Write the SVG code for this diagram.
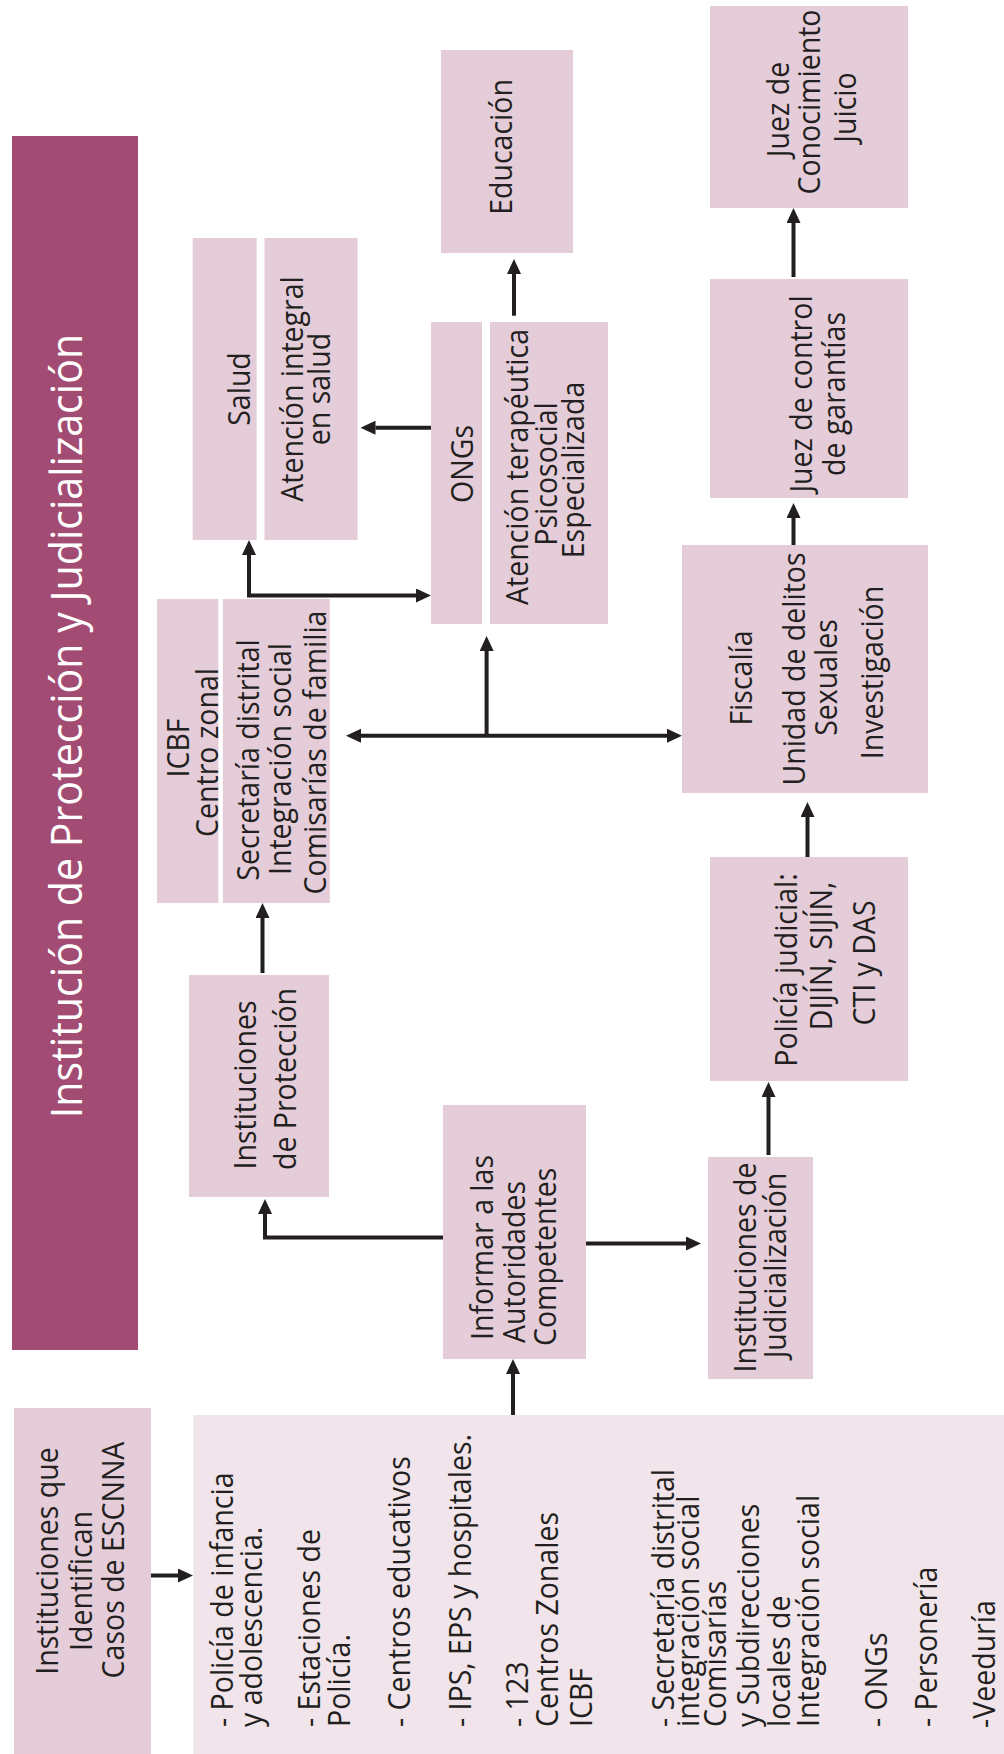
<svg xmlns="http://www.w3.org/2000/svg" width="1004" height="1754" viewBox="0 0 1004 1754">
<defs>
<style>
.box{fill:#e4cdd9}
.list{fill:#f1e4ea}
.bar{fill:#a24c73}
text{font-family:"Open Sans","Noto Sans",sans-serif;fill:#231f20;font-size:30.5px}
.c{text-anchor:middle}
.s{text-anchor:start}
.title{fill:#ffffff;font-size:44px}
.ln{fill:none;stroke:#231f20;stroke-width:4}
</style>
<marker id="ah" viewBox="0 0 15 14" refX="0" refY="7" markerWidth="15" markerHeight="14" markerUnits="userSpaceOnUse" orient="auto-start-reverse">
<path d="M0,0 L15,7 L0,14 z" fill="#231f20"/>
</marker>
</defs>
<rect width="1004" height="1754" fill="#ffffff"/>

<g id="title">
<rect class="bar" x="12" y="136" width="126" height="1214"/>
<text class="c title" transform="translate(81.5,726) rotate(-90) scale(0.935,1)">Institución de Protección y Judicialización</text>
</g>

<g id="educacion">
<rect class="box" x="441" y="50" width="132" height="203"/>
<text class="c" transform="translate(512,147) rotate(-90) scale(0.935,1)">Educación</text>
</g>

<g id="juez-conocimiento">
<rect class="box" x="710" y="6" width="198" height="202"/>
<text class="c" transform="translate(789,109.5) rotate(-90) scale(0.935,1)">Juez de</text>
<text class="c" transform="translate(820,102) rotate(-90) scale(0.935,1)">Conocimiento</text>
<text class="c" transform="translate(856,107.5) rotate(-90) scale(0.935,1)">Juicio</text>
</g>

<g id="salud">
<rect class="box" x="192.7" y="238" width="64" height="302"/>
<text class="c" transform="translate(250,389) rotate(-90) scale(0.935,1)">Salud</text>
</g>

<g id="atencion-salud">
<rect class="box" x="264.5" y="238" width="93" height="302"/>
<text class="c" transform="translate(303.3,389) rotate(-90) scale(0.935,1)">Atención integral</text>
<text class="c" transform="translate(330,389) rotate(-90) scale(0.935,1)">en salud</text>
</g>

<g id="ongs">
<rect class="box" x="431" y="322" width="51" height="302"/>
<text class="c" transform="translate(473,464) rotate(-90) scale(0.935,1)">ONGs</text>
</g>

<g id="atencion-terapeutica">
<rect class="box" x="490" y="322" width="118" height="302"/>
<text class="c" transform="translate(528.3,467) rotate(-90) scale(0.935,1)">Atención terapéutica</text>
<text class="c" transform="translate(556.7,474) rotate(-90) scale(0.935,1)">Psicosocial</text>
<text class="c" transform="translate(584,470) rotate(-90) scale(0.935,1)">Especializada</text>
</g>

<g id="juez-control">
<rect class="box" x="710" y="279" width="198" height="219"/>
<text class="c" transform="translate(812,394) rotate(-90) scale(0.935,1)">Juez de control</text>
<text class="c" transform="translate(845,394) rotate(-90) scale(0.935,1)">de garantías</text>
</g>

<g id="fiscalia">
<rect class="box" x="682" y="545" width="246" height="248"/>
<text class="c" transform="translate(751.7,678) rotate(-90) scale(0.935,1)">Fiscalía</text>
<text class="c" transform="translate(805,669) rotate(-90) scale(0.935,1)">Unidad de delitos</text>
<text class="c" transform="translate(836.7,677.5) rotate(-90) scale(0.935,1)">Sexuales</text>
<text class="c" transform="translate(883.3,672.5) rotate(-90) scale(0.935,1)">Investigación</text>
</g>

<g id="icbf">
<rect class="box" x="157" y="599" width="61.4" height="304"/>
<text class="c" transform="translate(189,748) rotate(-90) scale(0.935,1)">ICBF</text>
<text class="c" transform="translate(217.7,752.5) rotate(-90) scale(0.935,1)">Centro zonal</text>
</g>

<g id="secretaria">
<rect class="box" x="222.8" y="599" width="107" height="304"/>
<text class="c" transform="translate(259.3,760) rotate(-90) scale(0.935,1)">Secretaría distrital</text>
<text class="c" transform="translate(291.3,759) rotate(-90) scale(0.935,1)">Integración social</text>
<text class="c" transform="translate(326,752.5) rotate(-90) scale(0.935,1)">Comisarías de familia</text>
</g>

<g id="proteccion">
<rect class="box" x="189" y="975" width="140" height="222"/>
<text class="c" transform="translate(256,1085) rotate(-90) scale(0.935,1)">Instituciones</text>
<text class="c" transform="translate(296,1079) rotate(-90) scale(0.935,1)">de Protección</text>
</g>

<g id="policia-judicial">
<rect class="box" x="710" y="857" width="198" height="224"/>
<text class="c" transform="translate(797,970) rotate(-90) scale(0.935,1)">Policía judicial:</text>
<text class="c" transform="translate(832.4,956) rotate(-90) scale(0.935,1)">DIJÍN, SIJÍN,</text>
<text class="c" transform="translate(875,963) rotate(-90) scale(0.935,1)">CTI y DAS</text>
</g>

<g id="informar">
<rect class="box" x="443" y="1105" width="143" height="254"/>
<text class="s" transform="translate(493,1340) rotate(-90) scale(0.935,1)">Informar a las</text>
<text class="s" transform="translate(525,1343) rotate(-90) scale(0.935,1)">Autoridades</text>
<text class="s" transform="translate(556,1346) rotate(-90) scale(0.935,1)">Competentes</text>
</g>

<g id="judicializacion">
<rect class="box" x="708" y="1157" width="105" height="222"/>
<text class="c" transform="translate(755.6,1267.5) rotate(-90) scale(0.935,1)">Instituciones de</text>
<text class="c" transform="translate(786,1265.5) rotate(-90) scale(0.935,1)">Judicialización</text>
</g>

<g id="identifican">
<rect class="box" x="14" y="1408" width="137" height="346"/>
<text class="c" transform="translate(58,1561) rotate(-90) scale(0.935,1)">Instituciones que</text>
<text class="c" transform="translate(92,1581) rotate(-90) scale(0.935,1)">Identifican</text>
<text class="c" transform="translate(124,1560) rotate(-90) scale(0.935,1)">Casos de ESCNNA</text>
</g>

<g id="lista">
<rect class="list" x="193.4" y="1415" width="811" height="339"/>
<text class="s" transform="translate(233,1727) rotate(-90) scale(0.935,1)">- Policía de infancia</text>
<text class="s" transform="translate(262,1727) rotate(-90) scale(0.935,1)">y adolescencia.</text>
<text class="s" transform="translate(320,1727) rotate(-90) scale(0.935,1)">- Estaciones de</text>
<text class="s" transform="translate(350,1727) rotate(-90) scale(0.935,1)">Policía.</text>
<text class="s" transform="translate(409.5,1727) rotate(-90) scale(0.935,1)">- Centros educativos</text>
<text class="s" transform="translate(471,1727) rotate(-90) scale(0.935,1)">- IPS, EPS y hospitales.</text>
<text class="s" transform="translate(528,1727) rotate(-90) scale(0.935,1)">- 123</text>
<text class="s" transform="translate(558,1727) rotate(-90) scale(0.935,1)">Centros Zonales</text>
<text class="s" transform="translate(592,1727) rotate(-90) scale(0.935,1)">ICBF</text>
<text class="s" transform="translate(673.5,1727) rotate(-90) scale(0.935,1)">- Secretaría distrital</text>
<text class="s" transform="translate(699,1727) rotate(-90) scale(0.935,1)">integración social</text>
<text class="s" transform="translate(726,1727) rotate(-90) scale(0.935,1)">Comisarías</text>
<text class="s" transform="translate(758.5,1727) rotate(-90) scale(0.935,1)">y Subdirecciones</text>
<text class="s" transform="translate(790,1727) rotate(-90) scale(0.935,1)">locales de</text>
<text class="s" transform="translate(819,1727) rotate(-90) scale(0.935,1)">Integración social</text>
<text class="s" transform="translate(887,1727) rotate(-90) scale(0.935,1)">- ONGs</text>
<text class="s" transform="translate(937,1727) rotate(-90) scale(0.935,1)">- Personería</text>
<text class="s" transform="translate(995,1728) rotate(-90) scale(0.935,1)">-Veeduría</text>
</g>

<g id="connectors">
<path class="ln" d="M151,1575.5 H178" marker-end="url(#ah)"/>
<path class="ln" d="M513,1415 V1374" marker-end="url(#ah)"/>
<path class="ln" d="M443,1237.5 H265 V1214" marker-end="url(#ah)"/>
<path class="ln" d="M586,1243.5 H686" marker-end="url(#ah)"/>
<path class="ln" d="M768.5,1155 V1097" marker-end="url(#ah)"/>
<path class="ln" d="M807.5,857 V817" marker-end="url(#ah)"/>
<path class="ln" d="M793.5,545 V518" marker-end="url(#ah)"/>
<path class="ln" d="M793.5,277 V223" marker-end="url(#ah)"/>
<path class="ln" d="M262.5,973 V918" marker-end="url(#ah)"/>
<path class="ln" d="M361,735.7 H667" marker-start="url(#ah)" marker-end="url(#ah)"/>
<path class="ln" d="M486.6,735.7 V651" marker-end="url(#ah)"/>
<path class="ln" d="M249,555 V595.5 H416" marker-start="url(#ah)" marker-end="url(#ah)"/>
<path class="ln" d="M431,427.7 H375.5" marker-end="url(#ah)"/>
<path class="ln" d="M514,315.7 V274" marker-end="url(#ah)"/>
</g>
</svg>
